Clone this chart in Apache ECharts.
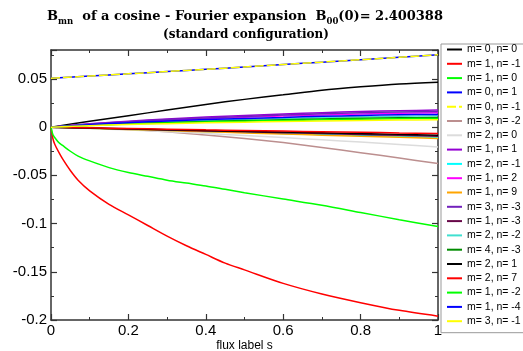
<!DOCTYPE html>
<html><head><meta charset="utf-8">
<script src="https://cdn.jsdelivr.net/npm/echarts@6/dist/echarts.min.js"></script>
<style>html,body{margin:0;padding:0;background:#fff}#c{width:523px;height:351px}</style>
</head><body><div id="c"></div>
<script>
// flux label grid (shared by most modes)
const s = [0, 0.1, 0.2, 0.3, 0.4, 0.5, 0.6, 0.7, 0.8, 0.9, 1];
// denser grid for modes that rise steeply at the axis
const sDense = [0, 0.005, 0.01, 0.02, 0.03, 0.05, 0.07, 0.1, 0.15, 0.2, 0.25, 0.3, 0.35, 0.4, 0.45, 0.5, 0.6, 0.7, 0.8, 0.9, 1];

const xTicks = [0, 0.2, 0.4, 0.6, 0.8, 1];
const yTicks = [-0.2, -0.15, -0.1, -0.05, 0, 0.05];

const labels = ["m= 0, n= 0","m= 1, n= -1","m= 1, n= 0","m= 0, n= 1","m= 0, n= -1","m= 3, n= -2","m= 2, n= 0","m= 1, n= 1","m= 2, n= -1","m= 1, n= 2","m= 1, n= 9","m= 3, n= -3","m= 1, n= -3","m= 2, n= -2","m= 4, n= -3","m= 2, n= 1","m= 2, n= 7","m= 1, n= -2","m= 1, n= -4","m= 3, n= -1"];
const colors = ["#000000","#ff0000","#00ff00","#0000ff","#ffff00","#bc8f8f","#dcdcdc","#9400d3","#00ffff","#ff00ff","#ffa500","#7221bc","#670748","#40e0d0","#008b00","#000000","#ff0000","#00ff00","#0000ff","#ffff00"];

const b_0_0   = [0, 0.006, 0.0118, 0.0178, 0.0236, 0.0288, 0.0335, 0.0383, 0.0418, 0.0447, 0.0466];
const b_1_m1  = [0, -0.012, -0.018, -0.026, -0.033, -0.045, -0.055, -0.066, -0.080, -0.091, -0.102, -0.113, -0.123, -0.132, -0.141, -0.148, -0.162, -0.173, -0.182, -0.190, -0.196];
const b_1_0   = [0, -0.008, -0.011, -0.016, -0.019, -0.025, -0.030, -0.035, -0.042, -0.047, -0.051, -0.055, -0.058, -0.061, -0.0645, -0.068, -0.0745, -0.081, -0.0885, -0.096, -0.103];
const b_0_1   = [0.0507, 0.0530, 0.0553, 0.0577, 0.0600, 0.0624, 0.0649, 0.0674, 0.0699, 0.0724, 0.0750];
const b_0_m1  = [0.0507, 0.0530, 0.0553, 0.0577, 0.0600, 0.0624, 0.0649, 0.0674, 0.0699, 0.0724, 0.0750];
const b_3_m2  = [0, -0.0008, -0.0025, -0.0048, -0.0082, -0.0118, -0.0160, -0.0210, -0.0265, -0.0320, -0.0378];
const b_2_0   = [0, -0.0013, -0.003, -0.0047, -0.0066, -0.0086, -0.0108, -0.0131, -0.0155, -0.018, -0.0205];
const b_1_1   = [0, 0.0035, 0.0062, 0.0085, 0.0104, 0.0121, 0.0136, 0.0150, 0.0162, 0.0171, 0.0177];
const b_2_m1  = [0, -0.0011, -0.0022, -0.0033, -0.0044, -0.0054, -0.0065, -0.0076, -0.0086, -0.0097, -0.0107];
const b_1_2   = [0, 0.003, 0.0053, 0.0072, 0.0088, 0.0103, 0.0115, 0.0127, 0.0137, 0.0145, 0.015];
const b_1_9   = [0, -0.0012, -0.0024, -0.0036, -0.0048, -0.006, -0.0071, -0.0083, -0.0095, -0.0106, -0.0118];
const b_3_m3  = [0, 0.0032, 0.0057, 0.0078, 0.0096, 0.0111, 0.0125, 0.0138, 0.0149, 0.0157, 0.0163];
const b_1_m3  = [0, -0.001, -0.002, -0.003, -0.0039, -0.0048, -0.0057, -0.0067, -0.0076, -0.0085, -0.0094];
const b_2_m2  = [0, 0.0023, 0.0041, 0.0057, 0.0069, 0.0081, 0.0091, 0.01, 0.0108, 0.0114, 0.0118];
const b_4_m3  = [0, 0.002, 0.0035, 0.0048, 0.0059, 0.0068, 0.0077, 0.0085, 0.0092, 0.0097, 0.01];
const b_2_1   = [0, -0.0009, -0.0017, -0.0026, -0.0035, -0.0043, -0.0051, -0.0059, -0.0067, -0.0075, -0.0083];
const b_2_7   = [0, -0.0007, -0.0014, -0.0021, -0.0028, -0.0034, -0.0041, -0.0047, -0.0053, -0.006, -0.0066];
const b_1_m2  = [0, 0.0018, 0.0032, 0.0043, 0.0053, 0.0062, 0.0069, 0.0076, 0.0082, 0.0087, 0.009];
const b_1_m4  = [0, 0.0026, 0.0046, 0.0063, 0.0078, 0.009, 0.0101, 0.0112, 0.0121, 0.0128, 0.0132];
const b_3_m1  = [0, 0.0015, 0.0027, 0.0036, 0.0045, 0.0052, 0.0058, 0.0064, 0.007, 0.0073, 0.0076];

const values = [b_0_0,b_1_m1,b_1_0,b_0_1,b_0_m1,b_3_m2,b_2_0,b_1_1,b_2_m1,b_1_2,b_1_9,b_3_m3,b_1_m3,b_2_m2,b_4_m3,b_2_1,b_2_7,b_1_m2,b_1_m4,b_3_m1];

const chart = echarts.init(document.getElementById('c'), null, {renderer: 'canvas'});
const axisCol = '#333';
const fnt = 'Liberation Sans, Arial, sans-serif';

const series = values.map((v, i) => {
  const xs = v.length === sDense.length ? sDense : s;
  return {
    name: labels[i], type: 'line', symbol: 'none', smooth: 0.3,
    data: v.map((y, k) => [xs[k], y]),
    lineStyle: {color: colors[i], width: 1.5, type: i === 4 ? [9, 3] : 'solid'},
    itemStyle: {color: colors[i]},
    emphasis: {disabled: true}, animation: false
  };
});

const xBase = {type: 'value', min: 0, max: 1, interval: 0.2,
  axisLine: {onZero: false, lineStyle: {color: axisCol, width: 1.5}},
  axisTick: {inside: true, length: 6, lineStyle: {color: axisCol, width: 1.2}},
  minorTick: {show: true, splitNumber: 2, length: 3, lineStyle: {color: axisCol, width: 1}},
  splitLine: {show: false}};
const yBase = {type: 'value', min: -0.2, max: 0.08, interval: 0.05,
  axisLine: {onZero: false, lineStyle: {color: axisCol, width: 1.5}},
  axisTick: {inside: true, length: 6, lineStyle: {color: axisCol, width: 1.2}},
  minorTick: {show: true, splitNumber: 2, length: 3, lineStyle: {color: axisCol, width: 1}},
  splitLine: {show: false}};

chart.setOption({
  animation: false,
  title: [{
    text: '{b|B}{sub|mn}{b|  of a cosine - Fourier expansion  B}{sub|00}{b|(0)= 2.400388}',
    left: 240, top: 3, textAlign: 'center',
    textStyle: {rich: {
      b: {fontFamily: 'DejaVu Serif', fontWeight: 'bold', fontSize: 13, color: '#000'},
      sub: {fontFamily: 'DejaVu Serif', fontWeight: 'bold', fontSize: 8.5, color: '#000', padding: [9, 0, 0, 0]}
    }}
  }, {
    text: '(standard configuration)', left: 241, top: 24, textAlign: 'center',
    textStyle: {fontFamily: 'DejaVu Serif', fontWeight: 'bold', fontSize: 12, color: '#000'}
  }],
  grid: {left: 51, right: 85, top: 50, bottom: 31, containLabel: false, outerBoundsMode: 'none'},
  legend: {
    orient: 'vertical', left: 441, top: 44,
    data: labels,
    itemWidth: 15, itemHeight: 10, itemGap: 3.3,
    padding: [0, 40, 6, 5],
    borderColor: '#999', borderWidth: 1,
    itemStyle: {opacity: 0},
    textStyle: {fontFamily: fnt, fontSize: 10.5, color: '#000', lineHeight: 10},
    selectedMode: false
  },
  xAxis: [
    Object.assign({}, xBase, {position: 'bottom', name: 'flux label s', nameLocation: 'middle', nameGap: 20,
      nameMoveOverlap: false,
      nameTextStyle: {fontFamily: fnt, fontSize: 12, color: '#000', verticalAlign: 'top'},
      axisLabel: {fontFamily: fnt, fontSize: 15, color: '#000', margin: 3,
        formatter: v => xTicks.some(t => Math.abs(t - v) < 1e-9) ? String(+v.toFixed(2)) : ''}}),
    Object.assign({}, xBase, {position: 'top', axisLabel: {show: false}})
  ],
  yAxis: [
    Object.assign({}, yBase, {position: 'left',
      axisLabel: {fontFamily: fnt, fontSize: 15, color: '#000', margin: 4, showMaxLabel: false,
        formatter: v => yTicks.some(t => Math.abs(t - v) < 1e-9) ? String(+v.toFixed(2)) : ''}}),
    Object.assign({}, yBase, {position: 'right', axisLabel: {show: false}})
  ],
  series: series
});
</script></body></html>
